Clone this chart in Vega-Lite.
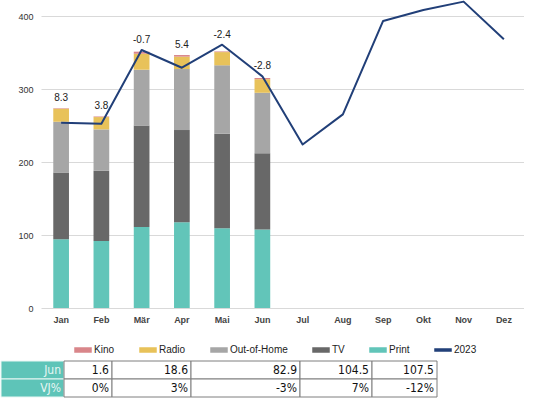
{
  "$schema": "https://vega.github.io/schema/vega-lite/v6.json",
  "padding": 0,
  "background": "#ffffff",
  "spacing": 36,
  "config": {
    "view": {"stroke": null},
    "font": "Liberation Sans"
  },
  "datasets": {
    "bars": [
      {"month": "Jan", "medium": "Print", "value": 94.2},
      {"month": "Jan", "medium": "TV", "value": 91.5},
      {"month": "Jan", "medium": "Out-of-Home", "value": 69.4},
      {"month": "Jan", "medium": "Radio", "value": 17.9},
      {"month": "Jan", "medium": "Kino", "value": 0.6},
      {"month": "Feb", "medium": "Print", "value": 91.9},
      {"month": "Feb", "medium": "TV", "value": 96.1},
      {"month": "Feb", "medium": "Out-of-Home", "value": 56.7},
      {"month": "Feb", "medium": "Radio", "value": 16.9},
      {"month": "Feb", "medium": "Kino", "value": 0.8},
      {"month": "Mär", "medium": "Print", "value": 111.1},
      {"month": "Mär", "medium": "TV", "value": 139.1},
      {"month": "Mär", "medium": "Out-of-Home", "value": 76.3},
      {"month": "Mär", "medium": "Radio", "value": 21.9},
      {"month": "Mär", "medium": "Kino", "value": 2.8},
      {"month": "Apr", "medium": "Print", "value": 117.6},
      {"month": "Apr", "medium": "TV", "value": 126.2},
      {"month": "Apr", "medium": "Out-of-Home", "value": 83.6},
      {"month": "Apr", "medium": "Radio", "value": 17.0},
      {"month": "Apr", "medium": "Kino", "value": 2.2},
      {"month": "Mai", "medium": "Print", "value": 109.3},
      {"month": "Mai", "medium": "TV", "value": 129.4},
      {"month": "Mai", "medium": "Out-of-Home", "value": 93.8},
      {"month": "Mai", "medium": "Radio", "value": 18.1},
      {"month": "Mai", "medium": "Kino", "value": 0.9},
      {"month": "Jun", "medium": "Print", "value": 107.5},
      {"month": "Jun", "medium": "TV", "value": 104.5},
      {"month": "Jun", "medium": "Out-of-Home", "value": 82.9},
      {"month": "Jun", "medium": "Radio", "value": 18.6},
      {"month": "Jun", "medium": "Kino", "value": 1.6}
    ],
    "line": [
      {"month": "Jan", "v2023": 253.8, "label": "8.3"},
      {"month": "Feb", "v2023": 252.4, "label": "3.8"},
      {"month": "Mär", "v2023": 353.5, "label": "-0.7"},
      {"month": "Apr", "v2023": 329.2, "label": "5.4"},
      {"month": "Mai", "v2023": 360.8, "label": "-2.4"},
      {"month": "Jun", "v2023": 317.4, "label": "-2.8"},
      {"month": "Jul", "v2023": 224.1},
      {"month": "Aug", "v2023": 265.3},
      {"month": "Sep", "v2023": 393.3},
      {"month": "Okt", "v2023": 408.4},
      {"month": "Nov", "v2023": 419.8},
      {"month": "Dez", "v2023": 368.2}
    ],
    "table": [
      {"col": "head", "row": "Jun", "text": "Jun"},
      {"col": "head", "row": "VJ%", "text": "VJ%"},
      {"col": "Kino", "row": "Jun", "text": "1.6"},
      {"col": "Kino", "row": "VJ%", "text": "0%"},
      {"col": "Radio", "row": "Jun", "text": "18.6"},
      {"col": "Radio", "row": "VJ%", "text": "3%"},
      {"col": "Out-of-Home", "row": "Jun", "text": "82.9"},
      {"col": "Out-of-Home", "row": "VJ%", "text": "-3%"},
      {"col": "TV", "row": "Jun", "text": "104.5"},
      {"col": "TV", "row": "VJ%", "text": "7%"},
      {"col": "Print", "row": "Jun", "text": "107.5"},
      {"col": "Print", "row": "VJ%", "text": "-12%"}
    ]
  },
  "vconcat": [
    {
      "hconcat": [
        {
          "width": 1,
          "height": 1,
          "data": {"values": [{}]},
          "mark": {"type": "text", "text": "", "fontSize": 0.1, "baseline": "top", "align": "left"},
          "encoding": {}
        },
        {
          "width": 483,
          "height": 308,
          "layer": [
            {
              "data": {"name": "bars"},
              "transform": [
                {"calculate": "indexof(['Print','TV','Out-of-Home','Radio','Kino'], datum.medium)", "as": "ord"}
              ],
              "mark": {"type": "bar"},
              "encoding": {
                "x": {
                  "field": "month", "type": "ordinal",
                  "sort": ["Jan","Feb","Mär","Apr","Mai","Jun","Jul","Aug","Sep","Okt","Nov","Dez"],
                  "scale": {"domain": ["Jan","Feb","Mär","Apr","Mai","Jun","Jul","Aug","Sep","Okt","Nov","Dez"], "paddingInner": 0.61, "paddingOuter": 0.305},
                  "axis": {"title": null, "labelAngle": 0, "domain": false, "ticks": false, "labelPadding": 7, "labelFontSize": 9, "labelFontWeight": "bold", "labelColor": "#444444"}
                },
                "y": {
                  "field": "value", "type": "quantitative", "stack": "zero",
                  "scale": {"domain": [0, 422], "nice": false, "zero": true},
                  "axis": {"title": null, "values": [0,100,200,300,400], "format": "d", "domain": false, "ticks": false, "labelPadding": 8, "minExtent": 39, "labelFontSize": 9, "labelColor": "#333333", "gridColor": "#d9d9d9", "gridWidth": 1}
                },
                "order": {"field": "ord", "type": "quantitative"},
                "color": {
                  "field": "medium", "type": "nominal",
                  "scale": {
                    "domain": ["Kino","Radio","Out-of-Home","TV","Print","2023"],
                    "range": ["#d9868a","#e8c25a","#a6a6a6","#686868","#62c5b9","#213f78"]
                  },
                  "legend": {
                    "title": null,
                    "orient": "none",
                    "legendX": 73,
                    "legendY": 341,
                    "direction": "horizontal",
                    "padding": 0,
                    "columnPadding": 22,
                    "labelOffset": 2,
                    "symbolSize": 256,
                    "symbolType": "M-1,-0.25H1V0.25H-1Z",
                    "labelFontSize": 10,
                    "labelColor": "#222222",
                    "labelFont": "Liberation Sans",
                    "encode": {
                      "symbols": {
                        "update": {
                          "shape": [{"test": "datum.value === '2023'", "value": "M-1,-0.12H1V0.12H-1Z"}, {"value": "M-1,-0.25H1V0.25H-1Z"}]
                        }
                      }
                    }
                  }
                }
              }
            },
            {
              "data": {"name": "line"},
              "mark": {"type": "line", "strokeWidth": 2, "strokeJoin": "round"},
              "encoding": {
                "x": {"field": "month", "type": "ordinal", "sort": ["Jan","Feb","Mär","Apr","Mai","Jun","Jul","Aug","Sep","Okt","Nov","Dez"]},
                "y": {"field": "v2023", "type": "quantitative", "axis": {"title": null}},
                "color": {"datum": "2023", "type": "nominal"}
              }
            },
            {
              "data": {"name": "bars"},
              "transform": [
                {"aggregate": [{"op": "sum", "field": "value", "as": "total"}], "groupby": ["month"]},
                {"lookup": "month", "from": {"data": {"name": "line"}, "key": "month", "fields": ["v2023", "label"]}},
                {"filter": "datum.label != null"},
                {"calculate": "max(datum.total, datum.v2023)", "as": "top"}
              ],
              "mark": {"type": "text", "baseline": "bottom", "dy": -5, "fontSize": 10, "color": "#222222"},
              "encoding": {
                "x": {"field": "month", "type": "ordinal", "sort": ["Jan","Feb","Mär","Apr","Mai","Jun","Jul","Aug","Sep","Okt","Nov","Dez"]},
                "y": {"field": "top", "type": "quantitative", "axis": {"title": null}},
                "text": {"field": "label"}
              }
            }
          ]
        }
      ],
      "spacing": 0
    },
    {
      "hconcat": [
        {
          "width": 63, "height": 36,
          "data": {"name": "table"},
          "transform": [{"filter": "datum.col === 'head'"}],
          "encoding": {
            "y": {"field": "row", "type": "nominal", "sort": ["Jun","VJ%"], "scale": {"paddingInner": 0, "paddingOuter": 0}, "axis": null}
          },
          "layer": [
            {"mark": {"type": "rect", "fill": "#5ec4b8", "stroke": "#e8f7f4", "strokeWidth": 1},
             "encoding": {"x": {"datum": 0, "type": "quantitative", "scale": {"domain": [0, 1]}, "axis": null}, "x2": {"datum": 1}}},
            {"mark": {"type": "text", "align": "right", "baseline": "middle", "dx": -3, "font": "Liberation Sans Narrow, DejaVu Sans Condensed, Liberation Sans, sans-serif", "fontSize": 12, "color": "#e8f7f4"},
             "encoding": {"x": {"datum": 1, "type": "quantitative", "axis": null}, "text": {"field": "text"}}}
          ]
        },
        {
          "width": 48, "height": 36,
          "data": {"name": "table"},
          "transform": [{"filter": "datum.col === 'Kino'"}],
          "encoding": {
            "y": {"field": "row", "type": "nominal", "sort": ["Jun","VJ%"], "scale": {"paddingInner": 0, "paddingOuter": 0}, "axis": null}
          },
          "layer": [
            {"mark": {"type": "rect", "fill": "#ffffff", "stroke": "#7f7f7f", "strokeWidth": 1},
             "encoding": {"x": {"datum": 0, "type": "quantitative", "scale": {"domain": [0, 1]}, "axis": null}, "x2": {"datum": 1}}},
            {"mark": {"type": "text", "align": "right", "baseline": "middle", "dx": -3, "font": "Liberation Sans Narrow, DejaVu Sans Condensed, Liberation Sans, sans-serif", "fontSize": 12, "color": "#111111"},
             "encoding": {"x": {"datum": 1, "type": "quantitative", "axis": null}, "text": {"field": "text"}}}
          ]
        },
        {
          "width": 79, "height": 36,
          "data": {"name": "table"},
          "transform": [{"filter": "datum.col === 'Radio'"}],
          "encoding": {
            "y": {"field": "row", "type": "nominal", "sort": ["Jun","VJ%"], "scale": {"paddingInner": 0, "paddingOuter": 0}, "axis": null}
          },
          "layer": [
            {"mark": {"type": "rect", "fill": "#ffffff", "stroke": "#7f7f7f", "strokeWidth": 1},
             "encoding": {"x": {"datum": 0, "type": "quantitative", "scale": {"domain": [0, 1]}, "axis": null}, "x2": {"datum": 1}}},
            {"mark": {"type": "text", "align": "right", "baseline": "middle", "dx": -3, "font": "Liberation Sans Narrow, DejaVu Sans Condensed, Liberation Sans, sans-serif", "fontSize": 12, "color": "#111111"},
             "encoding": {"x": {"datum": 1, "type": "quantitative", "axis": null}, "text": {"field": "text"}}}
          ]
        },
        {
          "width": 109, "height": 36,
          "data": {"name": "table"},
          "transform": [{"filter": "datum.col === 'Out-of-Home'"}],
          "encoding": {
            "y": {"field": "row", "type": "nominal", "sort": ["Jun","VJ%"], "scale": {"paddingInner": 0, "paddingOuter": 0}, "axis": null}
          },
          "layer": [
            {"mark": {"type": "rect", "fill": "#ffffff", "stroke": "#7f7f7f", "strokeWidth": 1},
             "encoding": {"x": {"datum": 0, "type": "quantitative", "scale": {"domain": [0, 1]}, "axis": null}, "x2": {"datum": 1}}},
            {"mark": {"type": "text", "align": "right", "baseline": "middle", "dx": -3, "font": "Liberation Sans Narrow, DejaVu Sans Condensed, Liberation Sans, sans-serif", "fontSize": 12, "color": "#111111"},
             "encoding": {"x": {"datum": 1, "type": "quantitative", "axis": null}, "text": {"field": "text"}}}
          ]
        },
        {
          "width": 72, "height": 36,
          "data": {"name": "table"},
          "transform": [{"filter": "datum.col === 'TV'"}],
          "encoding": {
            "y": {"field": "row", "type": "nominal", "sort": ["Jun","VJ%"], "scale": {"paddingInner": 0, "paddingOuter": 0}, "axis": null}
          },
          "layer": [
            {"mark": {"type": "rect", "fill": "#ffffff", "stroke": "#7f7f7f", "strokeWidth": 1},
             "encoding": {"x": {"datum": 0, "type": "quantitative", "scale": {"domain": [0, 1]}, "axis": null}, "x2": {"datum": 1}}},
            {"mark": {"type": "text", "align": "right", "baseline": "middle", "dx": -3, "font": "Liberation Sans Narrow, DejaVu Sans Condensed, Liberation Sans, sans-serif", "fontSize": 12, "color": "#111111"},
             "encoding": {"x": {"datum": 1, "type": "quantitative", "axis": null}, "text": {"field": "text"}}}
          ]
        },
        {
          "width": 65, "height": 36,
          "data": {"name": "table"},
          "transform": [{"filter": "datum.col === 'Print'"}],
          "encoding": {
            "y": {"field": "row", "type": "nominal", "sort": ["Jun","VJ%"], "scale": {"paddingInner": 0, "paddingOuter": 0}, "axis": null}
          },
          "layer": [
            {"mark": {"type": "rect", "fill": "#ffffff", "stroke": "#7f7f7f", "strokeWidth": 1},
             "encoding": {"x": {"datum": 0, "type": "quantitative", "scale": {"domain": [0, 1]}, "axis": null}, "x2": {"datum": 1}}},
            {"mark": {"type": "text", "align": "right", "baseline": "middle", "dx": -3, "font": "Liberation Sans Narrow, DejaVu Sans Condensed, Liberation Sans, sans-serif", "fontSize": 12, "color": "#111111"},
             "encoding": {"x": {"datum": 1, "type": "quantitative", "axis": null}, "text": {"field": "text"}}}
          ]
        }
      ],
      "spacing": 0,
      "bounds": "flush"
    }
  ]
}
